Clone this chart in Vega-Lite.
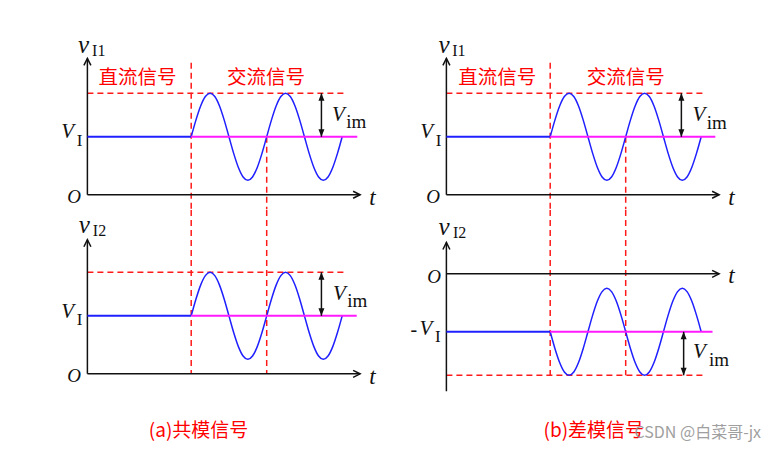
{
  "$schema": "https://vega.github.io/schema/vega-lite/v6.json",
  "padding": {"left": 27, "top": 28, "right": 0, "bottom": 0},
  "background": "white",
  "config": {"view": {"stroke": null}},
  "datasets": {
    "segs": [
      {"p":"a1","k":"dash","t":0,"v":7,"t2":13.7,"v2":7},
      {"p":"a1","k":"dash","t":5.5,"v":9.1,"t2":5.5,"v2":-1},
      {"p":"a1","k":"dash","t":9.5,"v":4,"t2":9.5,"v2":-1},
      {"p":"a1","k":"axis","t":0,"v":0,"t2":0,"v2":9.4},
      {"p":"a1","k":"axis","t":0,"v":0,"t2":14.45,"v2":0},
      {"p":"a1","k":"dc","t":0,"v":4,"t2":5.5,"v2":4},
      {"p":"a1","k":"ac","t":5.5,"v":4,"t2":14.3,"v2":4},
      {"p":"a1","k":"vim","t":12.4,"v":4,"t2":12.4,"v2":7},
      {"p":"b1","k":"dash","t":0,"v":7,"t2":13.7,"v2":7},
      {"p":"b1","k":"dash","t":5.5,"v":9.1,"t2":5.5,"v2":-1},
      {"p":"b1","k":"dash","t":9.5,"v":4,"t2":9.5,"v2":-1},
      {"p":"b1","k":"axis","t":0,"v":0,"t2":0,"v2":9.4},
      {"p":"b1","k":"axis","t":0,"v":0,"t2":14.45,"v2":0},
      {"p":"b1","k":"dc","t":0,"v":4,"t2":5.5,"v2":4},
      {"p":"b1","k":"ac","t":5.5,"v":4,"t2":14.25,"v2":4},
      {"p":"b1","k":"vim","t":12.45,"v":4,"t2":12.45,"v2":7},
      {"p":"a2","k":"dash","t":0,"v":7,"t2":13.65,"v2":7},
      {"p":"a2","k":"dash","t":5.5,"v":11.3,"t2":5.5,"v2":0},
      {"p":"a2","k":"dash","t":9.5,"v":11.3,"t2":9.5,"v2":0},
      {"p":"a2","k":"axis","t":0,"v":0,"t2":0,"v2":9.25},
      {"p":"a2","k":"axis","t":0,"v":0,"t2":14.45,"v2":0},
      {"p":"a2","k":"dc","t":0,"v":4,"t2":5.5,"v2":4},
      {"p":"a2","k":"ac","t":5.5,"v":4,"t2":14.27,"v2":4},
      {"p":"a2","k":"vim","t":12.4,"v":4,"t2":12.4,"v2":7},
      {"p":"b2","k":"dash","t":0,"v":-7,"t2":13.6,"v2":-7},
      {"p":"b2","k":"dash","t":5.5,"v":4.4,"t2":5.5,"v2":-7},
      {"p":"b2","k":"dash","t":9.5,"v":4.4,"t2":9.5,"v2":-7},
      {"p":"b2","k":"axis","t":0,"v":-8.1,"t2":0,"v2":2.16},
      {"p":"b2","k":"axis","t":0,"v":0,"t2":14.45,"v2":0},
      {"p":"b2","k":"dc","t":0,"v":-4,"t2":5.5,"v2":-4},
      {"p":"b2","k":"ac","t":5.5,"v":-4,"t2":14.1,"v2":-4},
      {"p":"b2","k":"vim","t":12.57,"v":-4,"t2":12.57,"v2":-7}
    ],
    "wave": [
      {"g":"up","t":5.5,"v":4},{"g":"up","t":5.75,"v":5.148},{"g":"up","t":6,"v":6.121},{"g":"up","t":6.25,"v":6.772},
      {"g":"up","t":6.5,"v":7},{"g":"up","t":6.75,"v":6.772},{"g":"up","t":7,"v":6.121},{"g":"up","t":7.25,"v":5.148},
      {"g":"up","t":7.5,"v":4},{"g":"up","t":7.75,"v":2.852},{"g":"up","t":8,"v":1.879},{"g":"up","t":8.25,"v":1.228},
      {"g":"up","t":8.5,"v":1},{"g":"up","t":8.75,"v":1.228},{"g":"up","t":9,"v":1.879},{"g":"up","t":9.25,"v":2.852},
      {"g":"up","t":9.5,"v":4},{"g":"up","t":9.75,"v":5.148},{"g":"up","t":10,"v":6.121},{"g":"up","t":10.25,"v":6.772},
      {"g":"up","t":10.5,"v":7},{"g":"up","t":10.75,"v":6.772},{"g":"up","t":11,"v":6.121},{"g":"up","t":11.25,"v":5.148},
      {"g":"up","t":11.5,"v":4},{"g":"up","t":11.75,"v":2.852},{"g":"up","t":12,"v":1.879},{"g":"up","t":12.25,"v":1.228},
      {"g":"up","t":12.5,"v":1},{"g":"up","t":12.75,"v":1.228},{"g":"up","t":13,"v":1.879},{"g":"up","t":13.25,"v":2.852},
      {"g":"up","t":13.5,"v":4},
      {"g":"dn","t":5.5,"v":-4},{"g":"dn","t":5.75,"v":-5.148},{"g":"dn","t":6,"v":-6.121},{"g":"dn","t":6.25,"v":-6.772},
      {"g":"dn","t":6.5,"v":-7},{"g":"dn","t":6.75,"v":-6.772},{"g":"dn","t":7,"v":-6.121},{"g":"dn","t":7.25,"v":-5.148},
      {"g":"dn","t":7.5,"v":-4},{"g":"dn","t":7.75,"v":-2.852},{"g":"dn","t":8,"v":-1.879},{"g":"dn","t":8.25,"v":-1.228},
      {"g":"dn","t":8.5,"v":-1},{"g":"dn","t":8.75,"v":-1.228},{"g":"dn","t":9,"v":-1.879},{"g":"dn","t":9.25,"v":-2.852},
      {"g":"dn","t":9.5,"v":-4},{"g":"dn","t":9.75,"v":-5.148},{"g":"dn","t":10,"v":-6.121},{"g":"dn","t":10.25,"v":-6.772},
      {"g":"dn","t":10.5,"v":-7},{"g":"dn","t":10.75,"v":-6.772},{"g":"dn","t":11,"v":-6.121},{"g":"dn","t":11.25,"v":-5.148},
      {"g":"dn","t":11.5,"v":-4},{"g":"dn","t":11.75,"v":-2.852},{"g":"dn","t":12,"v":-1.879},{"g":"dn","t":12.25,"v":-1.228},
      {"g":"dn","t":12.5,"v":-1},{"g":"dn","t":12.75,"v":-1.228},{"g":"dn","t":13,"v":-1.879},{"g":"dn","t":13.25,"v":-2.852},
      {"g":"dn","t":13.5,"v":-4}
    ],
    "heads": [
      {"p":"a1","d":"up","t":0,"v":9.4},{"p":"a1","d":"right","t":14.45,"v":0},{"p":"a1","d":"vup","t":12.4,"v":7},{"p":"a1","d":"vdown","t":12.4,"v":4},
      {"p":"b1","d":"up","t":0,"v":9.4},{"p":"b1","d":"right","t":14.45,"v":0},{"p":"b1","d":"vup","t":12.45,"v":7},{"p":"b1","d":"vdown","t":12.45,"v":4},
      {"p":"a2","d":"up","t":0,"v":9.25},{"p":"a2","d":"right","t":14.45,"v":0},{"p":"a2","d":"vup","t":12.4,"v":7},{"p":"a2","d":"vdown","t":12.4,"v":4},
      {"p":"b2","d":"up","t":0,"v":2.16},{"p":"b2","d":"right","t":14.45,"v":0},{"p":"b2","d":"vup","t":12.57,"v":-4},{"p":"b2","d":"vdown","t":12.57,"v":-7}
    ],
    "labels": [
      {"p":"a1","c":"v","t":-0.2,"v":10.35,"text":"v"},
      {"p":"a1","c":"s","t":0.6,"v":9.9,"text":"I1"},
      {"p":"a1","c":"V","t":-1.05,"v":4.3,"text":"V"},
      {"p":"a1","c":"i","t":-0.42,"v":3.72,"text":"I"},
      {"p":"a1","c":"O","t":-0.7,"v":-0.15,"text":"O"},
      {"p":"a1","c":"t","t":15.1,"v":-0.2,"text":"t"},
      {"p":"a1","c":"cn","t":2.65,"v":8.05,"text":"直流信号"},
      {"p":"a1","c":"cn","t":9.46,"v":8.05,"text":"交流信号"},
      {"p":"a1","c":"V","t":13.3,"v":5.5,"text":"V"},
      {"p":"a1","c":"m","t":14.25,"v":5.0,"text":"im"},
      {"p":"b1","c":"v","t":-0.12,"v":10.35,"text":"v"},
      {"p":"b1","c":"s","t":0.66,"v":9.9,"text":"I1"},
      {"p":"b1","c":"V","t":-1.05,"v":4.3,"text":"V"},
      {"p":"b1","c":"i","t":-0.42,"v":3.72,"text":"I"},
      {"p":"b1","c":"O","t":-0.7,"v":-0.15,"text":"O"},
      {"p":"b1","c":"t","t":15.1,"v":-0.2,"text":"t"},
      {"p":"b1","c":"cn","t":2.7,"v":8.05,"text":"直流信号"},
      {"p":"b1","c":"cn","t":9.5,"v":8.05,"text":"交流信号"},
      {"p":"b1","c":"V","t":13.38,"v":5.47,"text":"V"},
      {"p":"b1","c":"m","t":14.33,"v":4.95,"text":"im"},
      {"p":"a2","c":"v","t":-0.17,"v":10.3,"text":"v"},
      {"p":"a2","c":"s","t":0.64,"v":9.88,"text":"I2"},
      {"p":"a2","c":"V","t":-1.05,"v":4.3,"text":"V"},
      {"p":"a2","c":"i","t":-0.42,"v":3.72,"text":"I"},
      {"p":"a2","c":"O","t":-0.7,"v":-0.17,"text":"O"},
      {"p":"a2","c":"t","t":15.1,"v":-0.2,"text":"t"},
      {"p":"a2","c":"V","t":13.35,"v":5.5,"text":"V"},
      {"p":"a2","c":"m","t":14.3,"v":5.0,"text":"im"},
      {"p":"a2","c":"cap","t":5.89,"v":-3.92,"text":"(a)共模信号"},
      {"p":"b2","c":"v","t":-0.12,"v":3.2,"text":"v"},
      {"p":"b2","c":"s","t":0.7,"v":2.78,"text":"I2"},
      {"p":"b2","c":"O","t":-0.65,"v":-0.2,"text":"O"},
      {"p":"b2","c":"t","t":15.1,"v":-0.15,"text":"t"},
      {"p":"b2","c":"n","t":-1.72,"v":-3.85,"text":"-"},
      {"p":"b2","c":"V","t":-1.08,"v":-3.8,"text":"V"},
      {"p":"b2","c":"i","t":-0.45,"v":-4.35,"text":"I"},
      {"p":"b2","c":"V","t":13.4,"v":-5.41,"text":"V"},
      {"p":"b2","c":"m","t":14.44,"v":-5.93,"text":"im"},
      {"p":"b2","c":"cap","t":7.81,"v":-10.82,"text":"(b)差模信号"},
      {"p":"b2","c":"wm","t":13.32,"v":-10.96,"text":"CSDN @白菜哥-jx"}
    ]
  },
  "columns": 2,
  "spacing": 0,
  "bounds": "flush",
  "align": "each",
  "concat": [
    {
      "width": 358.6, "height": 181.25,
      "encoding": {
        "x": {"field":"t","type":"quantitative","scale":{"domain":[-3.2,15.8],"nice":false,"zero":false},"axis":null},
        "y": {"field":"v","type":"quantitative","scale":{"domain":[-1,11.5],"nice":false,"zero":false},"axis":null}
      },
      "layer": [
        {"data":{"name":"segs"},"transform":[{"filter":"datum.p=='a1' && datum.k!='ac' && datum.k!='vim'"}],"mark":{"type":"rule"},
         "encoding":{"x2":{"field":"t2"},"y2":{"field":"v2"},
           "color":{"condition":[{"test":"datum.k=='dash'","value":"#ff1a1a"},{"test":"datum.k=='dc'","value":"#1f1fff"},{"test":"datum.k=='ac'","value":"#ff1aff"}],"value":"#111111"},
           "strokeWidth":{"condition":{"test":"datum.k=='dc'||datum.k=='ac'","value":2},"value":1.5},
           "strokeDash":{"condition":{"test":"datum.k=='dash'","value":[6,4]},"value":[1,0]}}},
        {"data":{"name":"wave"},"transform":[{"filter":"datum.g=='up'"}],"mark":{"type":"line","color":"#1f1fff","strokeWidth":1.5,"interpolate":"monotone"}},
        {"data":{"name":"segs"},"transform":[{"filter":"datum.p=='a1' && (datum.k=='ac' || datum.k=='vim')"}],"mark":{"type":"rule"},
         "encoding":{"x2":{"field":"t2"},"y2":{"field":"v2"},
           "color":{"condition":[{"test":"datum.k=='ac'","value":"#ff1aff"}],"value":"#111111"},
           "strokeWidth":{"condition":{"test":"datum.k=='ac'","value":2},"value":1.5}}},
        {"data":{"name":"heads"},"transform":[{"filter":"datum.p=='a1' && (datum.d=='up' || datum.d=='right')"}],"mark":{"type":"point","filled":false,"color":"#111111","strokeWidth":1.5,"size":196,"opacity":1},
         "encoding":{"shape":{"field":"d","type":"nominal","scale":{"domain":["up","right","vup","vdown"],"range":["M-0.5,1L0,0L0.5,1","M-1,-0.5L0,0L-1,0.5","M0,0L-0.6,1.5L0.6,1.5Z","M0,0L-0.6,-1.5L0.6,-1.5Z"]},"legend":null}}},
        {"data":{"name":"heads"},"transform":[{"filter":"datum.p=='a1' && (datum.d=='vup' || datum.d=='vdown')"}],"mark":{"type":"point","filled":true,"color":"#111111","size":100,"opacity":1,"strokeWidth":0},
         "encoding":{"shape":{"field":"d","type":"nominal","scale":{"domain":["up","right","vup","vdown"],"range":["M-0.5,1L0,0L0.5,1","M-1,-0.5L0,0L-1,0.5","M0,0L-0.6,1.5L0.6,1.5Z","M0,0L-0.6,-1.5L0.6,-1.5Z"]},"legend":null}}},
        {"data":{"name":"labels"},"transform":[{"filter":"datum.p=='a1' && indexof(['v','V','O','t'], datum.c) >= 0"}],"mark":{"type":"text","font":"Liberation Serif","fontStyle":"italic","color":"#111111","align":"center","baseline":"middle"},
         "encoding":{"text":{"field":"text"},"size":{"condition":[{"test":"datum.c=='v'","value":25},{"test":"datum.c=='O'","value":19},{"test":"datum.c=='t'","value":23}],"value":21}}},
        {"data":{"name":"labels"},"transform":[{"filter":"datum.p=='a1' && indexof(['s','i','m','n'], datum.c) >= 0"}],"mark":{"type":"text","font":"Liberation Serif","color":"#111111","align":"center","baseline":"middle"},
         "encoding":{"text":{"field":"text"},"size":{"condition":[{"test":"datum.c=='s'","value":16},{"test":"datum.c=='m'","value":19},{"test":"datum.c=='n'","value":20}],"value":17}}},
        {"data":{"name":"labels"},"transform":[{"filter":"datum.p=='a1' && (datum.c=='cn' || datum.c=='cap')"}],"mark":{"type":"text","font":"Noto Sans CJK SC","color":"#ff0000","align":"center","baseline":"middle"},
         "encoding":{"text":{"field":"text"},"size":{"condition":{"test":"datum.c=='cn'","value":19.5},"value":19}}}
      ]
    },
    {
      "width": 358.6, "height": 181.25,
      "encoding": {
        "x": {"field":"t","type":"quantitative","scale":{"domain":[-3.2,15.8],"nice":false,"zero":false},"axis":null},
        "y": {"field":"v","type":"quantitative","scale":{"domain":[-1,11.5],"nice":false,"zero":false},"axis":null}
      },
      "layer": [
        {"data":{"name":"segs"},"transform":[{"filter":"datum.p=='b1' && datum.k!='ac' && datum.k!='vim'"}],"mark":{"type":"rule"},
         "encoding":{"x2":{"field":"t2"},"y2":{"field":"v2"},
           "color":{"condition":[{"test":"datum.k=='dash'","value":"#ff1a1a"},{"test":"datum.k=='dc'","value":"#1f1fff"},{"test":"datum.k=='ac'","value":"#ff1aff"}],"value":"#111111"},
           "strokeWidth":{"condition":{"test":"datum.k=='dc'||datum.k=='ac'","value":2},"value":1.5},
           "strokeDash":{"condition":{"test":"datum.k=='dash'","value":[6,4]},"value":[1,0]}}},
        {"data":{"name":"wave"},"transform":[{"filter":"datum.g=='up'"}],"mark":{"type":"line","color":"#1f1fff","strokeWidth":1.5,"interpolate":"monotone"}},
        {"data":{"name":"segs"},"transform":[{"filter":"datum.p=='b1' && (datum.k=='ac' || datum.k=='vim')"}],"mark":{"type":"rule"},
         "encoding":{"x2":{"field":"t2"},"y2":{"field":"v2"},
           "color":{"condition":[{"test":"datum.k=='ac'","value":"#ff1aff"}],"value":"#111111"},
           "strokeWidth":{"condition":{"test":"datum.k=='ac'","value":2},"value":1.5}}},
        {"data":{"name":"heads"},"transform":[{"filter":"datum.p=='b1' && (datum.d=='up' || datum.d=='right')"}],"mark":{"type":"point","filled":false,"color":"#111111","strokeWidth":1.5,"size":196,"opacity":1},
         "encoding":{"shape":{"field":"d","type":"nominal","scale":{"domain":["up","right","vup","vdown"],"range":["M-0.5,1L0,0L0.5,1","M-1,-0.5L0,0L-1,0.5","M0,0L-0.6,1.5L0.6,1.5Z","M0,0L-0.6,-1.5L0.6,-1.5Z"]},"legend":null}}},
        {"data":{"name":"heads"},"transform":[{"filter":"datum.p=='b1' && (datum.d=='vup' || datum.d=='vdown')"}],"mark":{"type":"point","filled":true,"color":"#111111","size":100,"opacity":1,"strokeWidth":0},
         "encoding":{"shape":{"field":"d","type":"nominal","scale":{"domain":["up","right","vup","vdown"],"range":["M-0.5,1L0,0L0.5,1","M-1,-0.5L0,0L-1,0.5","M0,0L-0.6,1.5L0.6,1.5Z","M0,0L-0.6,-1.5L0.6,-1.5Z"]},"legend":null}}},
        {"data":{"name":"labels"},"transform":[{"filter":"datum.p=='b1' && indexof(['v','V','O','t'], datum.c) >= 0"}],"mark":{"type":"text","font":"Liberation Serif","fontStyle":"italic","color":"#111111","align":"center","baseline":"middle"},
         "encoding":{"text":{"field":"text"},"size":{"condition":[{"test":"datum.c=='v'","value":25},{"test":"datum.c=='O'","value":19},{"test":"datum.c=='t'","value":23}],"value":21}}},
        {"data":{"name":"labels"},"transform":[{"filter":"datum.p=='b1' && indexof(['s','i','m','n'], datum.c) >= 0"}],"mark":{"type":"text","font":"Liberation Serif","color":"#111111","align":"center","baseline":"middle"},
         "encoding":{"text":{"field":"text"},"size":{"condition":[{"test":"datum.c=='s'","value":16},{"test":"datum.c=='m'","value":19},{"test":"datum.c=='n'","value":20}],"value":17}}},
        {"data":{"name":"labels"},"transform":[{"filter":"datum.p=='b1' && (datum.c=='cn' || datum.c=='cap')"}],"mark":{"type":"text","font":"Noto Sans CJK SC","color":"#ff0000","align":"center","baseline":"middle"},
         "encoding":{"text":{"field":"text"},"size":{"condition":{"test":"datum.c=='cn'","value":19.5},"value":19}}}
      ]
    },
    {
      "width": 358.6, "height": 240.7,
      "encoding": {
        "x": {"field":"t","type":"quantitative","scale":{"domain":[-3.2,15.8],"nice":false,"zero":false},"axis":null},
        "y": {"field":"v","type":"quantitative","scale":{"domain":[-5.3,11.3],"nice":false,"zero":false},"axis":null}
      },
      "layer": [
        {"data":{"name":"segs"},"transform":[{"filter":"datum.p=='a2' && datum.k!='ac' && datum.k!='vim'"}],"mark":{"type":"rule"},
         "encoding":{"x2":{"field":"t2"},"y2":{"field":"v2"},
           "color":{"condition":[{"test":"datum.k=='dash'","value":"#ff1a1a"},{"test":"datum.k=='dc'","value":"#1f1fff"},{"test":"datum.k=='ac'","value":"#ff1aff"}],"value":"#111111"},
           "strokeWidth":{"condition":{"test":"datum.k=='dc'||datum.k=='ac'","value":2},"value":1.5},
           "strokeDash":{"condition":{"test":"datum.k=='dash'","value":[6,4]},"value":[1,0]}}},
        {"data":{"name":"wave"},"transform":[{"filter":"datum.g=='up'"}],"mark":{"type":"line","color":"#1f1fff","strokeWidth":1.5,"interpolate":"monotone"}},
        {"data":{"name":"segs"},"transform":[{"filter":"datum.p=='a2' && (datum.k=='ac' || datum.k=='vim')"}],"mark":{"type":"rule"},
         "encoding":{"x2":{"field":"t2"},"y2":{"field":"v2"},
           "color":{"condition":[{"test":"datum.k=='ac'","value":"#ff1aff"}],"value":"#111111"},
           "strokeWidth":{"condition":{"test":"datum.k=='ac'","value":2},"value":1.5}}},
        {"data":{"name":"heads"},"transform":[{"filter":"datum.p=='a2' && (datum.d=='up' || datum.d=='right')"}],"mark":{"type":"point","filled":false,"color":"#111111","strokeWidth":1.5,"size":196,"opacity":1},
         "encoding":{"shape":{"field":"d","type":"nominal","scale":{"domain":["up","right","vup","vdown"],"range":["M-0.5,1L0,0L0.5,1","M-1,-0.5L0,0L-1,0.5","M0,0L-0.6,1.5L0.6,1.5Z","M0,0L-0.6,-1.5L0.6,-1.5Z"]},"legend":null}}},
        {"data":{"name":"heads"},"transform":[{"filter":"datum.p=='a2' && (datum.d=='vup' || datum.d=='vdown')"}],"mark":{"type":"point","filled":true,"color":"#111111","size":100,"opacity":1,"strokeWidth":0},
         "encoding":{"shape":{"field":"d","type":"nominal","scale":{"domain":["up","right","vup","vdown"],"range":["M-0.5,1L0,0L0.5,1","M-1,-0.5L0,0L-1,0.5","M0,0L-0.6,1.5L0.6,1.5Z","M0,0L-0.6,-1.5L0.6,-1.5Z"]},"legend":null}}},
        {"data":{"name":"labels"},"transform":[{"filter":"datum.p=='a2' && indexof(['v','V','O','t'], datum.c) >= 0"}],"mark":{"type":"text","font":"Liberation Serif","fontStyle":"italic","color":"#111111","align":"center","baseline":"middle"},
         "encoding":{"text":{"field":"text"},"size":{"condition":[{"test":"datum.c=='v'","value":25},{"test":"datum.c=='O'","value":19},{"test":"datum.c=='t'","value":23}],"value":21}}},
        {"data":{"name":"labels"},"transform":[{"filter":"datum.p=='a2' && indexof(['s','i','m','n'], datum.c) >= 0"}],"mark":{"type":"text","font":"Liberation Serif","color":"#111111","align":"center","baseline":"middle"},
         "encoding":{"text":{"field":"text"},"size":{"condition":[{"test":"datum.c=='s'","value":16},{"test":"datum.c=='m'","value":19},{"test":"datum.c=='n'","value":20}],"value":17}}},
        {"data":{"name":"labels"},"transform":[{"filter":"datum.p=='a2' && (datum.c=='cn' || datum.c=='cap')"}],"mark":{"type":"text","font":"Noto Sans CJK SC","color":"#ff0000","align":"center","baseline":"middle"},
         "encoding":{"text":{"field":"text"},"size":{"condition":{"test":"datum.c=='cn'","value":19.5},"value":19}}}
      ]
    },
    {
      "width": 358.6, "height": 240.7,
      "encoding": {
        "x": {"field":"t","type":"quantitative","scale":{"domain":[-3.2,15.8],"nice":false,"zero":false},"axis":null},
        "y": {"field":"v","type":"quantitative","scale":{"domain":[-12.2,4.4],"nice":false,"zero":false},"axis":null}
      },
      "layer": [
        {"data":{"name":"segs"},"transform":[{"filter":"datum.p=='b2' && datum.k!='ac' && datum.k!='vim'"}],"mark":{"type":"rule"},
         "encoding":{"x2":{"field":"t2"},"y2":{"field":"v2"},
           "color":{"condition":[{"test":"datum.k=='dash'","value":"#ff1a1a"},{"test":"datum.k=='dc'","value":"#1f1fff"},{"test":"datum.k=='ac'","value":"#ff1aff"}],"value":"#111111"},
           "strokeWidth":{"condition":{"test":"datum.k=='dc'||datum.k=='ac'","value":2},"value":1.5},
           "strokeDash":{"condition":{"test":"datum.k=='dash'","value":[6,4]},"value":[1,0]}}},
        {"data":{"name":"wave"},"transform":[{"filter":"datum.g=='dn'"}],"mark":{"type":"line","color":"#1f1fff","strokeWidth":1.5,"interpolate":"monotone"}},
        {"data":{"name":"segs"},"transform":[{"filter":"datum.p=='b2' && (datum.k=='ac' || datum.k=='vim')"}],"mark":{"type":"rule"},
         "encoding":{"x2":{"field":"t2"},"y2":{"field":"v2"},
           "color":{"condition":[{"test":"datum.k=='ac'","value":"#ff1aff"}],"value":"#111111"},
           "strokeWidth":{"condition":{"test":"datum.k=='ac'","value":2},"value":1.5}}},
        {"data":{"name":"heads"},"transform":[{"filter":"datum.p=='b2' && (datum.d=='up' || datum.d=='right')"}],"mark":{"type":"point","filled":false,"color":"#111111","strokeWidth":1.5,"size":196,"opacity":1},
         "encoding":{"shape":{"field":"d","type":"nominal","scale":{"domain":["up","right","vup","vdown"],"range":["M-0.5,1L0,0L0.5,1","M-1,-0.5L0,0L-1,0.5","M0,0L-0.6,1.5L0.6,1.5Z","M0,0L-0.6,-1.5L0.6,-1.5Z"]},"legend":null}}},
        {"data":{"name":"heads"},"transform":[{"filter":"datum.p=='b2' && (datum.d=='vup' || datum.d=='vdown')"}],"mark":{"type":"point","filled":true,"color":"#111111","size":100,"opacity":1,"strokeWidth":0},
         "encoding":{"shape":{"field":"d","type":"nominal","scale":{"domain":["up","right","vup","vdown"],"range":["M-0.5,1L0,0L0.5,1","M-1,-0.5L0,0L-1,0.5","M0,0L-0.6,1.5L0.6,1.5Z","M0,0L-0.6,-1.5L0.6,-1.5Z"]},"legend":null}}},
        {"data":{"name":"labels"},"transform":[{"filter":"datum.p=='b2' && indexof(['v','V','O','t'], datum.c) >= 0"}],"mark":{"type":"text","font":"Liberation Serif","fontStyle":"italic","color":"#111111","align":"center","baseline":"middle"},
         "encoding":{"text":{"field":"text"},"size":{"condition":[{"test":"datum.c=='v'","value":25},{"test":"datum.c=='O'","value":19},{"test":"datum.c=='t'","value":23}],"value":21}}},
        {"data":{"name":"labels"},"transform":[{"filter":"datum.p=='b2' && indexof(['s','i','m','n'], datum.c) >= 0"}],"mark":{"type":"text","font":"Liberation Serif","color":"#111111","align":"center","baseline":"middle"},
         "encoding":{"text":{"field":"text"},"size":{"condition":[{"test":"datum.c=='s'","value":16},{"test":"datum.c=='m'","value":19},{"test":"datum.c=='n'","value":20}],"value":17}}},
        {"data":{"name":"labels"},"transform":[{"filter":"datum.p=='b2' && (datum.c=='cn' || datum.c=='cap')"}],"mark":{"type":"text","font":"Noto Sans CJK SC","color":"#ff0000","align":"center","baseline":"middle"},
         "encoding":{"text":{"field":"text"},"size":{"condition":{"test":"datum.c=='cn'","value":19.5},"value":19}}},
        {"data":{"name":"labels"},"transform":[{"filter":"datum.c=='wm'"}],"mark":{"type":"text","font":"Noto Sans CJK SC","fontSize":16,"color":"#8f8f8f","opacity":0.85,"align":"center","baseline":"middle"},
         "encoding":{"text":{"field":"text"}}}
      ]
    }
  ]
}
